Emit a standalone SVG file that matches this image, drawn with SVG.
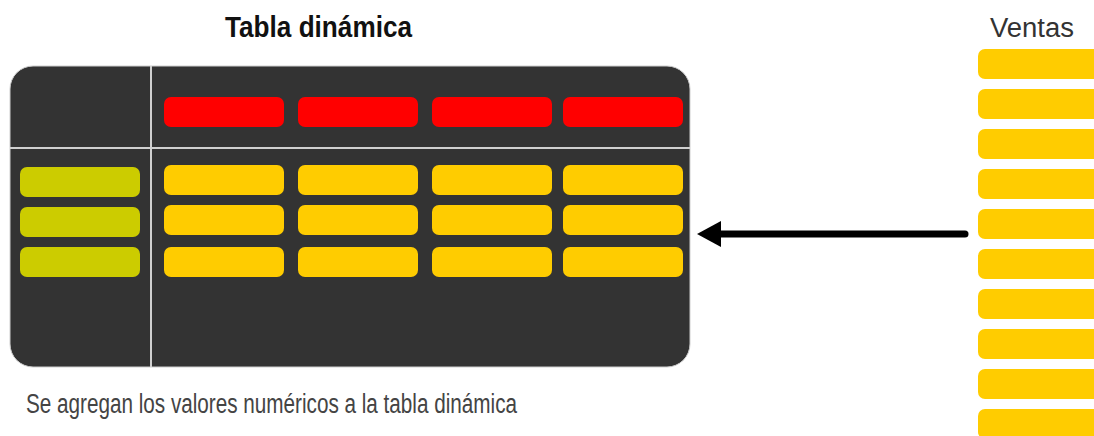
<svg xmlns="http://www.w3.org/2000/svg" width="1094" height="436" viewBox="0 0 1094 436">
  <style>
    .panel { fill: #333333; stroke: #cfcfcf; stroke-width: 1; }
    .divider { stroke: #d0d0d0; stroke-width: 2; }
    .bar { rx: 7; ry: 7; }
    .red { fill: #ff0000; }
    .yel { fill: #ffcc00; }
    .grn { fill: #cccc00; }
    .title { font-family: "Liberation Sans", Arial, sans-serif; font-weight: bold; font-size: 29px; fill: #111111; }
    .label { font-family: "Liberation Sans", Arial, sans-serif; font-size: 27px; fill: #333333; }
    .note { font-family: "Liberation Sans", Arial, sans-serif; font-size: 27px; fill: #444444; }
    .conn { stroke: #000000; stroke-width: 7; stroke-linecap: round; fill: none; }
  </style>
  <defs>
    <marker id="arrowhead" viewBox="0 -13 24 26" refX="0" refY="0" markerWidth="24" markerHeight="26" markerUnits="userSpaceOnUse" orient="auto">
      <path d="M0,-13 L24,0 L0,13 z" fill="#000000"/>
    </marker>
  </defs>
  <rect width="1094" height="436" fill="#ffffff"/>

  <g id="pivot-table">
    <text class="title" x="225" y="37" textLength="187" lengthAdjust="spacingAndGlyphs">Tabla dinámica</text>
    <rect class="panel" x="10" y="66" width="680" height="301" rx="23" ry="23"/>
    <line class="divider" x1="151" y1="66" x2="151" y2="367"/>
    <line class="divider" x1="10" y1="148" x2="690" y2="148"/>
    <g id="column-headers">
      <rect class="bar red" x="164" y="97" width="120" height="30"/>
      <rect class="bar red" x="298" y="97" width="120" height="30"/>
      <rect class="bar red" x="432" y="97" width="120" height="30"/>
      <rect class="bar red" x="563" y="97" width="120" height="30"/>
    </g>
    <g id="row-headers">
      <rect class="bar grn" x="20" y="167" width="120" height="30"/>
      <rect class="bar grn" x="20" y="207" width="120" height="30"/>
      <rect class="bar grn" x="20" y="247" width="120" height="30"/>
    </g>
    <g id="values">
      <rect class="bar yel" x="164" y="165" width="120" height="30"/>
      <rect class="bar yel" x="298" y="165" width="120" height="30"/>
      <rect class="bar yel" x="432" y="165" width="120" height="30"/>
      <rect class="bar yel" x="563" y="165" width="120" height="30"/>
      <rect class="bar yel" x="164" y="205" width="120" height="30"/>
      <rect class="bar yel" x="298" y="205" width="120" height="30"/>
      <rect class="bar yel" x="432" y="205" width="120" height="30"/>
      <rect class="bar yel" x="563" y="205" width="120" height="30"/>
      <rect class="bar yel" x="164" y="247" width="120" height="30"/>
      <rect class="bar yel" x="298" y="247" width="120" height="30"/>
      <rect class="bar yel" x="432" y="247" width="120" height="30"/>
      <rect class="bar yel" x="563" y="247" width="120" height="30"/>
    </g>
  </g>

  <g id="ventas">
    <text class="label" x="990" y="37" textLength="84" lengthAdjust="spacingAndGlyphs">Ventas</text>
    <rect class="bar yel" x="978" y="49" width="130" height="30"/>
    <rect class="bar yel" x="978" y="89" width="130" height="30"/>
    <rect class="bar yel" x="978" y="129" width="130" height="30"/>
    <rect class="bar yel" x="978" y="169" width="130" height="30"/>
    <rect class="bar yel" x="978" y="209" width="130" height="30"/>
    <rect class="bar yel" x="978" y="249" width="130" height="30"/>
    <rect class="bar yel" x="978" y="289" width="130" height="30"/>
    <rect class="bar yel" x="978" y="329" width="130" height="30"/>
    <rect class="bar yel" x="978" y="369" width="130" height="30"/>
    <rect class="bar yel" x="978" y="409" width="130" height="30"/>
  </g>

  <g id="caption">
    <text class="note" x="26" y="413" textLength="491" lengthAdjust="spacingAndGlyphs">Se agregan los valores numéricos a la tabla dinámica</text>
  </g>

  <g id="connectors">
    <line class="conn" x1="965" y1="234" x2="721" y2="234" marker-end="url(#arrowhead)"/>
  </g>
</svg>
